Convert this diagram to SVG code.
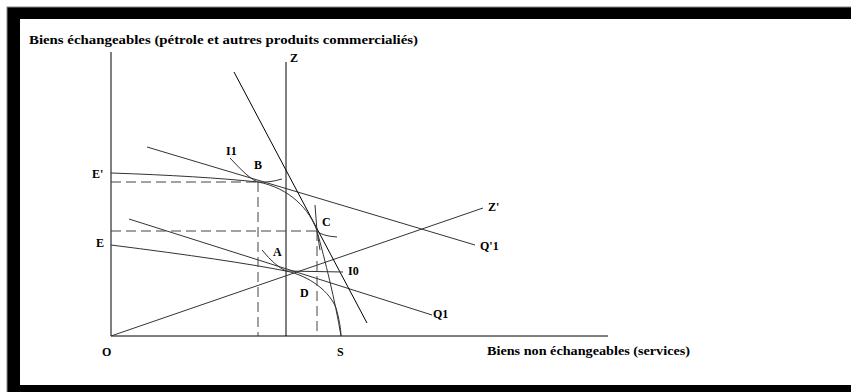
<svg xmlns="http://www.w3.org/2000/svg" width="851" height="392" viewBox="0 0 851 392">
<style>
.t{font-family:"Liberation Serif","Times New Roman",serif;font-weight:bold;font-size:12px;fill:#000}
.l{fill:none;stroke:#000;stroke-width:1}
.g{fill:none;stroke:#333;stroke-width:1}
.d{fill:none;stroke:#444;stroke-width:1;stroke-dasharray:10 5}
</style>
<rect x="0" y="0" width="851" height="392" fill="#fff"/>
<rect x="7" y="7" width="850" height="390" fill="#000" stroke="#888" stroke-width="1"/>
<rect x="20" y="19" width="840" height="366" fill="#fff"/>
<g id="axes">
<line class="l" x1="111" y1="52" x2="111" y2="336"/>
<line class="l" x1="111" y1="336" x2="608" y2="336"/>
<text class="t" x="29" y="44" font-size="13" textLength="389" lengthAdjust="spacingAndGlyphs">Biens échangeables (pétrole et autres produits commercialiés)</text>
<text class="t" x="487" y="355" font-size="13" textLength="203" lengthAdjust="spacingAndGlyphs">Biens non échangeables (services)</text>
<text class="t" x="102" y="356">O</text>
<text class="t" x="337" y="356">S</text>
</g>
<g id="connectors">
<line class="l" x1="286" y1="62" x2="286" y2="336"/>
<line class="g" x1="111" y1="336" x2="483" y2="208"/>
<line class="g" x1="147" y1="147" x2="475" y2="245"/>
<line class="g" x1="129" y1="219" x2="432" y2="315"/>
<line class="l" x1="234" y1="72" x2="367" y2="323"/>
<path class="g" d="M111,173 Q200,176 258,182 C290,188 310,210 317,231 C325,260 335,300 341,336"/>
<path class="g" d="M111,245 Q230,260 286,271 C310,276 330,292 336,308 C339,318 341,330 341,336"/>
<path class="g" d="M230,158 Q250,180 258,182 Q268,183 282,179"/>
<path class="g" d="M315,205 L317,231 Q322,236 337,237"/>
<line class="g" x1="317" y1="231" x2="320" y2="250"/>
<path class="g" d="M262,250 Q275,266 286,271 L343,272"/>
<line class="d" x1="111" y1="182" x2="258" y2="182"/>
<line class="d" x1="258" y1="182" x2="258" y2="336"/>
<line class="d" x1="111" y1="231" x2="317" y2="231"/>
<line class="d" x1="317" y1="231" x2="317" y2="336"/>
</g>
<g id="labels">
<text class="t" x="290" y="62">Z</text>
<text class="t" x="488" y="211">Z'</text>
<text class="t" x="92" y="178">E'</text>
<text class="t" x="96" y="247">E</text>
<text class="t" x="226" y="155">I1</text>
<text class="t" x="254" y="169">B</text>
<text class="t" x="322" y="226">C</text>
<text class="t" x="273" y="256">A</text>
<text class="t" x="348" y="275">I0</text>
<text class="t" x="300" y="297">D</text>
<text class="t" x="480" y="250">Q'1</text>
<text class="t" x="433" y="318">Q1</text>
</g>
</svg>
